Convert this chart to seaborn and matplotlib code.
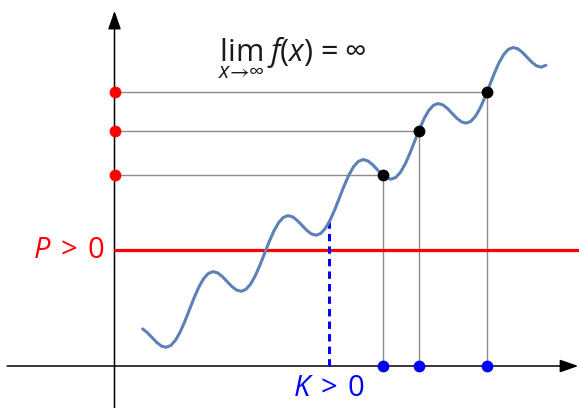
import matplotlib
matplotlib.use("Agg")
import matplotlib.pyplot as plt
import numpy as np
import pandas as pd
import seaborn as sns

# Sampled graph of the oscillating, unbounded function f
x_curve = list(range(6, 93))
y_curve = [
    10.58, 9.54, 8.14, 6.74, 5.70, 5.34, 5.86, 7.34, 9.70, 12.74,
    16.14, 19.54, 22.58, 24.94, 26.42, 26.94, 26.58, 25.54, 24.14, 22.74,
    21.70, 21.34, 21.86, 23.34, 25.70, 28.74, 32.14, 35.54, 38.58, 40.94,
    42.42, 42.94, 42.58, 41.54, 40.14, 38.74, 37.70, 37.34, 37.86, 39.34,
    41.70, 44.74, 48.14, 51.54, 54.58, 56.94, 58.42, 58.94, 58.58, 57.54,
    56.14, 54.74, 53.70, 53.34, 53.86, 55.34, 57.70, 60.74, 64.14, 67.54,
    70.58, 72.94, 74.42, 74.94, 74.58, 73.54, 72.14, 70.74, 69.70, 69.34,
    69.86, 71.34, 73.70, 76.74, 80.14, 83.54, 86.58, 88.94, 90.42, 90.94,
    90.58, 89.54, 88.14, 86.74, 85.70, 85.34, 85.86,
]

# Threshold P, the point K beyond which f stays above P, and sample points x > K
P = 33.1
K = 45.75
f_K = 41.1
x_marks = [57.3, 64.9, 79.4]
f_marks = [54.4, 67.2, 78.1]

CURVE = "#5e81b5"
RED = "#ff0000"
BLUE = "#0000ff"
GUIDE = "#8c8c8c"

sns.set_theme(style="white")
plt.rcParams["font.family"] = ["Open Sans", "DejaVu Sans"]
plt.rcParams["mathtext.fontset"] = "custom"
plt.rcParams["mathtext.rm"] = "Open Sans"
plt.rcParams["mathtext.it"] = "Open Sans:italic"
plt.rcParams["mathtext.fallback"] = "stixsans"

fig = plt.figure(figsize=(5.79, 4.08), dpi=100)
ax = fig.add_axes([0, 0, 1, 1])
ax.set_xlim(-24.42, 99.06)
ax.set_ylim(-11.99, 104.5)
ax.axis("off")

arrow = dict(arrowstyle="-|>,head_length=0.8,head_width=0.28", mutation_scale=14,
             lw=1.1, color="black", shrinkA=0, shrinkB=0)
ax.annotate("", xy=(98.9, 0), xytext=(-22.9, 0), arrowprops=arrow, zorder=3)
ax.annotate("", xy=(0, 101.4), xytext=(0, -12.5), arrowprops=arrow, zorder=3)

# Guide lines from each sample point to both axes
for xi, yi in zip(x_marks, f_marks):
    ax.plot([0, xi], [yi, yi], color=GUIDE, lw=1.0, zorder=2)
    ax.plot([xi, xi], [yi, 0], color=GUIDE, lw=1.0, zorder=2)

# Horizontal level P
ax.axhline(P, xmin=(0 - -24.42) / (99.06 + 24.42), xmax=1, color=RED, lw=2.3, zorder=3)

# Dashed drop from the curve at K
ax.plot([K, K], [0, f_K], color=BLUE, lw=2.2, linestyle=(0, (2.4, 1.7)), zorder=4)

df = pd.DataFrame({"x": x_curve, "y": y_curve})
sns.lineplot(data=df, x="x", y="y", color=CURVE, lw=2.2, sort=False,
             estimator=None, ax=ax, zorder=5)

sns.scatterplot(x=[0] * len(f_marks), y=f_marks, color=RED, s=72, linewidth=0, ax=ax, zorder=7)
sns.scatterplot(x=x_marks, y=f_marks, color="black", s=72, linewidth=0, ax=ax, zorder=7)
sns.scatterplot(x=x_marks, y=[0] * len(x_marks), color=BLUE, s=72, linewidth=0, ax=ax, zorder=7)

ax.text(-2.0, P, r"$P\:>\:0$", color=RED, fontsize=21, ha="right", va="center")
ax.text(K, -6.4, r"$K\:>\:0$", color=BLUE, fontsize=21, ha="center", va="center")
ax.text(0.377, 0.916, r"$\lim_{x\to\infty}\hspace{0.25}f(x)\;=\;\infty$", color="#1a1a1a",
        fontsize=22, ha="left", va="top", transform=ax.transAxes)

ax.set_xlabel("")
ax.set_ylabel("")
fig.savefig("out.png", dpi=100)
